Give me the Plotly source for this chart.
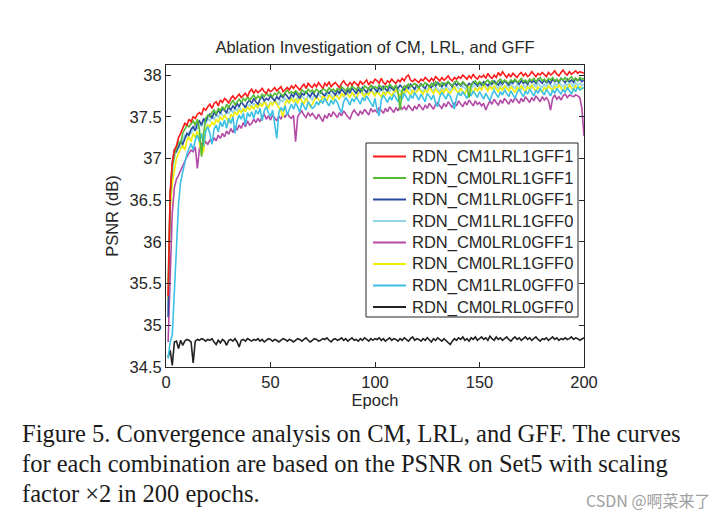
import plotly.graph_objects as go

epochs = list(range(1, 201))

series_names = [
    "RDN_CM1LRL1GFF1", "RDN_CM0LRL1GFF1", "RDN_CM1LRL0GFF1", "RDN_CM1LRL1GFF0",
    "RDN_CM0LRL0GFF1", "RDN_CM0LRL1GFF0", "RDN_CM1LRL0GFF0", "RDN_CM0LRL0GFF0",
]
series_colors = ["#ff1a1a", "#55bb33", "#2a4aa0", "#92d6e6", "#b44aa6", "#f2ee00", "#3cc0e6", "#222222"]

psnr_cm1lrl1gff1 = [
    35.35, 36.60, 36.95, 37.10, 37.15, 37.25, 37.30, 37.35, 37.42, 37.40,
    37.47, 37.44, 37.50, 37.48, 37.53, 37.55, 37.52, 37.60, 37.58, 37.62,
    37.65, 37.60, 37.66, 37.68, 37.63, 37.70, 37.67, 37.72, 37.70, 37.66,
    37.72, 37.75, 37.71, 37.74, 37.77, 37.73, 37.76, 37.78, 37.74, 37.80,
    37.83, 37.78, 37.82, 37.79, 37.81, 37.84, 37.80, 37.78, 37.83, 37.80,
    37.82, 37.85, 37.81, 37.84, 37.86, 37.80, 37.83, 37.85, 37.82, 37.87,
    37.84, 37.88, 37.85, 37.82, 37.86, 37.89, 37.84, 37.90, 37.87, 37.85,
    37.89, 37.86, 37.91, 37.88, 37.84, 37.90, 37.87, 37.92, 37.86, 37.89,
    37.91, 37.88, 37.85, 37.90, 37.93, 37.89, 37.87, 37.91, 37.88, 37.92,
    37.90, 37.87, 37.93, 37.89, 37.91, 37.94, 37.88, 37.92, 37.90, 37.95,
    37.93, 37.90, 37.96, 37.91, 37.89, 37.93, 37.91, 37.95, 37.92, 37.90,
    37.94, 37.92, 37.96, 37.93, 37.98, 38.00, 37.94, 37.92, 37.95, 37.93,
    37.91, 37.95, 37.93, 37.97, 37.94, 37.92, 37.96, 37.93, 37.98, 37.95,
    37.93, 37.97, 37.94, 37.96, 37.99, 37.95, 37.93, 37.97, 37.95, 37.98,
    37.96, 38.00, 37.97, 37.95, 37.99, 37.96, 38.01, 37.97, 37.95, 37.99,
    37.97, 38.00, 37.96, 38.02, 37.98, 37.96, 38.00, 37.97, 38.03, 37.99,
    38.04, 38.00, 37.97, 38.01, 37.98, 38.02, 37.99, 37.97, 38.01, 38.03,
    37.99, 38.02, 37.98, 38.00, 38.04, 38.01, 37.98, 38.02, 38.00, 38.03,
    38.01, 37.98, 38.03, 38.00, 38.02, 38.05, 38.01, 37.99, 38.03, 38.06,
    38.02, 38.00, 38.04, 38.01, 38.03, 38.05, 38.02, 38.04, 38.03, 38.02,
]

psnr_cm0lrl1gff1 = [
    35.50, 36.55, 36.90, 37.05, 37.12, 37.20, 37.18, 37.30, 37.35, 37.40,
    37.38, 37.42, 37.45, 37.40, 37.47, 37.35, 37.02, 37.30, 37.48, 37.52,
    37.50, 37.55, 37.58, 37.53, 37.60, 37.57, 37.62, 37.58, 37.65, 37.61,
    37.66, 37.70, 37.64, 37.68, 37.71, 37.67, 37.72, 37.69, 37.74, 37.70,
    37.73, 37.76, 37.71, 37.75, 37.72, 37.77, 37.74, 37.78, 37.75, 37.77,
    37.74, 37.78, 37.76, 37.80, 37.77, 37.75, 37.79, 37.82, 37.78, 37.80,
    37.78, 37.81, 37.79, 37.76, 37.82, 37.80, 37.78, 37.83, 37.80, 37.82,
    37.79, 37.83, 37.81, 37.78, 37.84, 37.82, 37.80, 37.85, 37.81, 37.83,
    37.80, 37.84, 37.82, 37.86, 37.83, 37.81, 37.85, 37.82, 37.87, 37.84,
    37.82, 37.86, 37.84, 37.81, 37.87, 37.85, 37.83, 37.88, 37.84, 37.86,
    37.84, 37.88, 37.85, 37.83, 37.87, 37.85, 37.89, 37.86, 37.84, 37.88,
    37.80, 37.58, 37.82, 37.87, 37.85, 37.89, 37.86, 37.88, 37.90, 37.87,
    37.85, 37.89, 37.87, 37.91, 37.88, 37.86, 37.90, 37.87, 37.92, 37.89,
    37.87, 37.91, 37.88, 37.90, 37.92, 37.89, 37.87, 37.91, 37.93, 37.90,
    37.88, 37.92, 37.90, 37.87, 37.73, 37.88, 37.91, 37.93, 37.89, 37.92,
    37.90, 37.88, 37.92, 37.94, 37.90, 37.93, 37.91, 37.89, 37.93, 37.95,
    37.91, 37.94, 37.92, 37.90, 37.94, 37.92, 37.95, 37.91, 37.93, 37.96,
    37.92, 37.94, 37.91, 37.95, 37.93, 37.96, 37.92, 37.94, 37.97, 37.93,
    37.95, 37.92, 37.96, 37.94, 37.97, 37.93, 37.95, 37.92, 37.96, 37.94,
    37.97, 37.93, 37.95, 37.98, 37.94, 37.96, 37.93, 37.97, 37.95, 37.96,
]

psnr_cm1lrl0gff1 = [
    35.10, 36.55, 36.95, 37.10, 37.08, 37.15, 37.20, 37.17, 37.25, 37.30,
    37.28, 37.35, 37.38, 37.33, 37.42, 37.45, 37.40, 37.48, 37.44, 37.50,
    37.53, 37.48, 37.55, 37.52, 37.58, 37.54, 37.60, 37.57, 37.55, 37.62,
    37.58, 37.63, 37.60, 37.66, 37.62, 37.68, 37.64, 37.61, 37.67, 37.70,
    37.66, 37.72, 37.68, 37.65, 37.71, 37.74, 37.69, 37.72, 37.70, 37.75,
    37.72, 37.69, 37.74, 37.71, 37.76, 37.73, 37.78, 37.74, 37.71, 37.77,
    37.74, 37.79, 37.75, 37.72, 37.78, 37.76, 37.80, 37.77, 37.74, 37.79,
    37.76, 37.73, 37.79, 37.81, 37.77, 37.75, 37.80, 37.78, 37.82, 37.79,
    37.76, 37.81, 37.78, 37.83, 37.80, 37.77, 37.82, 37.79, 37.84, 37.81,
    37.78, 37.83, 37.80, 37.85, 37.82, 37.79, 37.84, 37.81, 37.86, 37.83,
    37.80, 37.85, 37.82, 37.87, 37.83, 37.81, 37.86, 37.84, 37.82, 37.87,
    37.84, 37.88, 37.85, 37.82, 37.87, 37.84, 37.89, 37.86, 37.83, 37.88,
    37.85, 37.90, 37.86, 37.84, 37.89, 37.87, 37.85, 37.90, 37.87, 37.91,
    37.88, 37.86, 37.90, 37.87, 37.92, 37.89, 37.86, 37.91, 37.88, 37.90,
    37.87, 37.91, 37.89, 37.86, 37.90, 37.88, 37.92, 37.89, 37.87, 37.91,
    37.88, 37.92, 37.90, 37.87, 37.91, 37.89, 37.93, 37.90, 37.88, 37.92,
    37.89, 37.93, 37.90, 37.88, 37.92, 37.90, 37.94, 37.91, 37.89, 37.93,
    37.90, 37.92, 37.89, 37.94, 37.91, 37.93, 37.90, 37.95, 37.92, 37.90,
    37.94, 37.91, 37.93, 37.90, 37.95, 37.92, 37.94, 37.91, 37.96, 37.93,
    37.91, 37.95, 37.92, 37.94, 37.91, 37.96, 37.93, 37.95, 37.92, 37.94,
]

psnr_cm1lrl1gff0 = [
    35.20, 36.40, 36.80, 37.00, 37.10, 37.15, 37.12, 37.22, 37.28, 37.25,
    37.32, 37.30, 37.36, 37.40, 37.35, 37.42, 37.38, 37.45, 37.41, 37.48,
    37.45, 37.50, 37.47, 37.53, 37.49, 37.55, 37.52, 37.50, 37.57, 37.54,
    37.58, 37.55, 37.60, 37.57, 37.62, 37.58, 37.56, 37.63, 37.60, 37.65,
    37.62, 37.66, 37.63, 37.60, 37.67, 37.64, 37.69, 37.65, 37.62, 37.68,
    37.65, 37.70, 37.67, 37.64, 37.71, 37.68, 37.72, 37.69, 37.66, 37.73,
    37.70, 37.67, 37.74, 37.71, 37.75, 37.72, 37.69, 37.76, 37.73, 37.70,
    37.76, 37.73, 37.77, 37.74, 37.71, 37.78, 37.75, 37.79, 37.76, 37.73,
    37.78, 37.75, 37.80, 37.77, 37.74, 37.79, 37.76, 37.81, 37.78, 37.75,
    37.80, 37.77, 37.82, 37.79, 37.76, 37.81, 37.78, 37.83, 37.80, 37.77,
    37.82, 37.79, 37.84, 37.80, 37.78, 37.83, 37.80, 37.85, 37.81, 37.79,
    37.84, 37.81, 37.78, 37.83, 37.80, 37.85, 37.82, 37.79, 37.84, 37.81,
    37.86, 37.82, 37.80, 37.85, 37.82, 37.87, 37.83, 37.81, 37.86, 37.83,
    37.80, 37.85, 37.82, 37.87, 37.84, 37.81, 37.86, 37.83, 37.88, 37.84,
    37.82, 37.87, 37.84, 37.81, 37.86, 37.83, 37.88, 37.85, 37.82, 37.87,
    37.84, 37.89, 37.85, 37.83, 37.88, 37.85, 37.82, 37.87, 37.84, 37.89,
    37.86, 37.83, 37.88, 37.85, 37.90, 37.86, 37.84, 37.89, 37.86, 37.83,
    37.88, 37.85, 37.90, 37.87, 37.84, 37.89, 37.86, 37.91, 37.87, 37.85,
    37.89, 37.86, 37.91, 37.88, 37.85, 37.90, 37.87, 37.92, 37.88, 37.86,
    37.90, 37.87, 37.92, 37.89, 37.86, 37.91, 37.88, 37.90, 37.87, 37.89,
]

psnr_cm0lrl0gff1 = [
    34.80, 35.70, 36.35, 36.65, 36.75, 36.80, 36.86, 36.92, 36.97, 37.02,
    37.06, 37.10, 37.08, 37.14, 36.88, 37.12, 37.18, 37.15, 37.20, 37.17,
    37.22, 37.19, 37.25, 37.21, 37.28, 37.24, 37.30, 37.26, 37.33, 37.29,
    37.36, 37.31, 37.38, 37.34, 37.40, 37.36, 37.43, 37.38, 37.45, 37.40,
    37.42, 37.47, 37.43, 37.48, 37.44, 37.50, 37.53, 37.47, 37.51, 37.46,
    37.52, 37.48, 37.45, 37.51, 37.47, 37.53, 37.49, 37.55, 37.50, 37.48,
    37.52, 37.20, 37.50, 37.54, 37.57, 37.52, 37.49, 37.55, 37.51, 37.54,
    37.50, 37.47, 37.53, 37.49, 37.44, 37.52, 37.48, 37.54, 37.50, 37.56,
    37.52, 37.49, 37.55, 37.51, 37.57, 37.53, 37.50, 37.47, 37.54, 37.58,
    37.54, 37.51, 37.57, 37.53, 37.59, 37.55, 37.52, 37.60, 37.56, 37.58,
    37.55, 37.61, 37.57, 37.54, 37.60, 37.56, 37.62, 37.58, 37.55, 37.61,
    37.57, 37.63, 37.59, 37.62, 37.58, 37.64, 37.60, 37.57, 37.63, 37.59,
    37.65, 37.61, 37.58, 37.64, 37.60, 37.66, 37.62, 37.59, 37.65, 37.67,
    37.63, 37.60, 37.66, 37.62, 37.68, 37.64, 37.61, 37.67, 37.63, 37.69,
    37.65, 37.62, 37.68, 37.64, 37.70, 37.66, 37.63, 37.69, 37.65, 37.67,
    37.63, 37.66, 37.58, 37.64, 37.69, 37.65, 37.71, 37.67, 37.64, 37.70,
    37.66, 37.72, 37.68, 37.65, 37.71, 37.67, 37.73, 37.69, 37.66, 37.72,
    37.68, 37.74, 37.70, 37.67, 37.73, 37.69, 37.75, 37.71, 37.68, 37.74,
    37.70, 37.73, 37.69, 37.58, 37.72, 37.76, 37.71, 37.74, 37.70, 37.75,
    37.77, 37.73, 37.76, 37.75, 37.74, 37.76, 37.75, 37.73, 37.60, 37.27,
]

psnr_cm0lrl1gff0 = [
    35.30, 36.40, 36.70, 36.88, 37.00, 37.06, 37.12, 37.16, 37.10, 37.22,
    37.26, 37.20, 37.30, 37.25, 37.33, 37.18, 37.05, 37.09, 37.35, 37.40,
    37.38, 37.44, 37.40, 37.47, 37.43, 37.50, 37.46, 37.52, 37.48, 37.42,
    37.53, 37.50, 37.56, 37.52, 37.58, 37.55, 37.60, 37.56, 37.62, 37.58,
    37.63, 37.59, 37.65, 37.61, 37.66, 37.62, 37.68, 37.64, 37.60, 37.67,
    37.64, 37.69, 37.65, 37.62, 37.57, 37.50, 37.66, 37.70, 37.67, 37.72,
    37.68, 37.71, 37.66, 37.73, 37.69, 37.65, 37.72, 37.68, 37.62, 37.65,
    37.70, 37.74, 37.71, 37.67, 37.75, 37.72, 37.69, 37.76, 37.73, 37.70,
    37.77, 37.74, 37.71, 37.78, 37.75, 37.80, 37.76, 37.73, 37.79, 37.75,
    37.72, 37.78, 37.81, 37.77, 37.74, 37.79, 37.76, 37.82, 37.78, 37.75,
    37.80, 37.77, 37.74, 37.79, 37.76, 37.81, 37.78, 37.75, 37.80, 37.82,
    37.78, 37.75, 37.81, 37.77, 37.83, 37.79, 37.76, 37.82, 37.78, 37.80,
    37.84, 37.80, 37.77, 37.82, 37.79, 37.85, 37.81, 37.78, 37.83, 37.80,
    37.77, 37.82, 37.79, 37.84, 37.80, 37.78, 37.83, 37.86, 37.81, 37.79,
    37.84, 37.80, 37.78, 37.83, 37.86, 37.82, 37.79, 37.84, 37.81, 37.85,
    37.82, 37.88, 37.84, 37.81, 37.86, 37.83, 37.87, 37.84, 37.80, 37.85,
    37.82, 37.87, 37.84, 37.81, 37.86, 37.83, 37.79, 37.85, 37.82, 37.87,
    37.84, 37.80, 37.86, 37.83, 37.88, 37.84, 37.81, 37.86, 37.83, 37.79,
    37.85, 37.82, 37.87, 37.84, 37.81, 37.86, 37.83, 37.88, 37.84, 37.81,
    37.86, 37.83, 37.88, 37.85, 37.82, 37.87, 37.84, 37.86, 37.83, 37.85,
]

psnr_cm1lrl0gff0 = [
    34.60, 34.80, 34.88, 35.35, 35.90, 36.45, 36.72, 36.85, 36.95, 37.05,
    37.12, 37.18, 37.10, 37.22, 37.28, 37.20, 37.30, 37.15, 37.33, 37.38,
    37.30, 37.17, 37.35, 37.40, 37.32, 37.44, 37.38, 37.46, 37.36, 37.48,
    37.42, 37.50, 37.30, 37.45, 37.52, 37.47, 37.54, 37.40, 37.55, 37.50,
    37.56, 37.48, 37.58, 37.53, 37.60, 37.45, 37.57, 37.62, 37.55, 37.50,
    37.58, 37.40, 37.24, 37.55, 37.61, 37.57, 37.63, 37.52, 37.60, 37.65,
    37.59, 37.66, 37.62, 37.55, 37.67, 37.63, 37.58, 37.68, 37.64, 37.60,
    37.62, 37.68, 37.64, 37.70, 37.66, 37.72, 37.67, 37.63, 37.70, 37.65,
    37.71, 37.67, 37.60, 37.55, 37.68, 37.73, 37.69, 37.64, 37.72, 37.68,
    37.74, 37.70, 37.65, 37.73, 37.69, 37.75, 37.71, 37.66, 37.62, 37.72,
    37.58, 37.51, 37.70, 37.76, 37.72, 37.67, 37.74, 37.70, 37.77, 37.73,
    37.68, 37.75, 37.71, 37.78, 37.74, 37.69, 37.76, 37.72, 37.79, 37.75,
    37.70, 37.77, 37.73, 37.68, 37.78, 37.74, 37.71, 37.76, 37.66, 37.62,
    37.74, 37.79, 37.75, 37.71, 37.78, 37.74, 37.68, 37.59, 37.73, 37.79,
    37.75, 37.80, 37.76, 37.72, 37.79, 37.75, 37.81, 37.77, 37.73, 37.80,
    37.76, 37.71, 37.78, 37.74, 37.69, 37.77, 37.81, 37.77, 37.73, 37.80,
    37.76, 37.82, 37.78, 37.74, 37.81, 37.77, 37.72, 37.79, 37.83, 37.78,
    37.74, 37.81, 37.77, 37.83, 37.79, 37.75, 37.82, 37.78, 37.84, 37.80,
    37.76, 37.83, 37.79, 37.75, 37.82, 37.78, 37.84, 37.80, 37.77, 37.83,
    37.79, 37.85, 37.81, 37.77, 37.84, 37.80, 37.86, 37.82, 37.84, 37.85,
]

psnr_cm0lrl0gff0 = [
    34.62, 34.70, 34.52, 34.80, 34.81, 34.72, 34.82, 34.76, 34.81, 34.83,
    34.82, 34.80, 34.55, 34.81, 34.83, 34.82, 34.84, 34.83, 34.81, 34.83,
    34.82, 34.84, 34.80, 34.77, 34.82, 34.79, 34.83, 34.81, 34.76, 34.82,
    34.83, 34.81, 34.84, 34.80, 34.74, 34.82, 34.83, 34.81, 34.84, 34.82,
    34.81, 34.83, 34.82, 34.84, 34.81, 34.83, 34.80, 34.82, 34.84, 34.83,
    34.81, 34.83, 34.82, 34.80, 34.82, 34.84, 34.83, 34.81, 34.83, 34.82,
    34.80, 34.82, 34.84, 34.83, 34.81, 34.83, 34.85, 34.82, 34.80, 34.82,
    34.84, 34.83, 34.81, 34.82, 34.84, 34.83, 34.85, 34.82, 34.80, 34.83,
    34.84, 34.82, 34.83, 34.85, 34.82, 34.84, 34.81, 34.83, 34.85, 34.82,
    34.83, 34.81, 34.84, 34.82, 34.85, 34.83, 34.81, 34.84, 34.82, 34.84,
    34.83, 34.85, 34.82, 34.84, 34.81, 34.83, 34.85, 34.82, 34.84, 34.83,
    34.81, 34.84, 34.82, 34.85, 34.83, 34.81, 34.84, 34.86, 34.82, 34.84,
    34.83, 34.81, 34.84, 34.82, 34.85, 34.83, 34.80, 34.84, 34.82, 34.85,
    34.83, 34.81, 34.84, 34.82, 34.79, 34.77, 34.81, 34.84, 34.82, 34.85,
    34.83, 34.86, 34.82, 34.84, 34.81, 34.85, 34.83, 34.86, 34.82, 34.84,
    34.86, 34.83, 34.85, 34.82, 34.87, 34.84, 34.82, 34.86, 34.83, 34.85,
    34.82, 34.84, 34.86, 34.83, 34.81, 34.84, 34.86, 34.83, 34.85, 34.82,
    34.84, 34.86, 34.83, 34.85, 34.82, 34.84, 34.86, 34.83, 34.81, 34.84,
    34.83, 34.85, 34.82, 34.84, 34.86, 34.83, 34.85, 34.82, 34.84, 34.83,
    34.85, 34.83, 34.84, 34.86, 34.83, 34.85, 34.84, 34.82, 34.84, 34.85,
]

series_values = [
    psnr_cm1lrl1gff1, psnr_cm0lrl1gff1, psnr_cm1lrl0gff1, psnr_cm1lrl1gff0,
    psnr_cm0lrl0gff1, psnr_cm0lrl1gff0, psnr_cm1lrl0gff0, psnr_cm0lrl0gff0,
]

x_ticks = [0, 50, 100, 150, 200]
y_ticks = [34.5, 35, 35.5, 36, 36.5, 37, 37.5, 38]
y_tick_labels = ["34.5", "35", "35.5", "36", "36.5", "37", "37.5", "38"]

title_text = "Ablation Investigation of CM, LRL, and GFF"
caption_lines = [
    "Figure 5. Convergence analysis on CM, LRL, and GFF. The curves",
    "for each combination are based on the PSNR on Set5 with scaling",
    "factor \u00d72 in 200 epochs.",
]
watermark = "CSDN @啊菜来了"

# page is rendered with an 8px body margin; plot box target in page pixels
PL, PR, PT, PB = 166, 584, 65, 367
OFF = 8
W, H = 725, 520


def px(X):
    return (X - PL) / (PR - PL)


def py(Y):
    return (PB - Y) / (PB - PT)


fig = go.Figure()
draw_order = [7, 4, 3, 5, 6, 2, 1, 0]
for i in draw_order:
    fig.add_trace(go.Scatter(
        x=epochs, y=series_values[i], mode="lines", name=series_names[i],
        line=dict(color=series_colors[i], width=1.6), showlegend=False,
    ))

FONT = "Liberation Sans, Arial, sans-serif"
TXT = "#262626"
axis_common = dict(
    showline=True, linecolor=TXT, linewidth=1, mirror="ticks",
    ticks="inside", ticklen=5, tickcolor=TXT, tickwidth=1,
    showgrid=False, zeroline=False, automargin=False,
    tickfont=dict(family=FONT, size=16.5, color=TXT),
)

fig.update_layout(
    width=W, height=H,
    paper_bgcolor="white", plot_bgcolor="white",
    margin=dict(l=PL - OFF, r=W - (PR - OFF), t=PT - OFF, b=H - (PB - OFF)),
    title=dict(text=title_text, x=0.5, xref="paper", xanchor="center",
               y=1 - (47 - OFF) / H, yref="container", yanchor="middle",
               font=dict(family=FONT, size=16.5, color=TXT)),
    showlegend=False,
    xaxis=dict(range=[0, 200], tickvals=x_ticks, ticktext=[str(t) for t in x_ticks],
               title=dict(text="Epoch", font=dict(family=FONT, size=16.5, color=TXT), standoff=0),
               **axis_common),
    yaxis=dict(range=[34.5, 38.12], tickvals=y_ticks, ticktext=y_tick_labels,
               title=dict(text="PSNR (dB)", font=dict(family=FONT, size=16.5, color=TXT), standoff=6),
               **axis_common),
)

# legend box drawn manually for tight row spacing
LX0, LX1, LY0, LY1 = 366, 578, 143, 317
fig.add_shape(type="rect", xref="paper", yref="paper",
              x0=px(LX0), x1=px(LX1), y0=py(LY1), y1=py(LY0),
              line=dict(color=TXT, width=1), fillcolor="white", layer="above")
row0, rowstep = 156.5, 21.5
for k, name in enumerate(series_names):
    yy = row0 + rowstep * k
    fig.add_shape(type="line", xref="paper", yref="paper",
                  x0=px(373), x1=px(406), y0=py(yy), y1=py(yy),
                  line=dict(color=series_colors[k], width=2), layer="above")
    fig.add_annotation(text=name, xref="paper", yref="paper",
                       x=px(410), y=py(yy), xanchor="left", yanchor="middle",
                       showarrow=False, font=dict(family=FONT, size=16.5, color=TXT))

for k, line in enumerate(caption_lines):
    fig.add_annotation(
        text=line, xref="paper", yref="paper",
        x=px(20), y=py(433 + 30 * k),
        xanchor="left", yanchor="middle", showarrow=False,
        font=dict(family="Liberation Serif, Times New Roman, serif", size=24.5, color="#1a1a1a"),
    )

fig.add_annotation(
    text=watermark, xref="paper", yref="paper",
    x=px(713), y=py(500),
    xanchor="right", yanchor="middle", showarrow=False,
    font=dict(family="Noto Sans CJK SC, sans-serif", size=16, color="#a0a0a0"),
)

fig.write_html("out.html")
